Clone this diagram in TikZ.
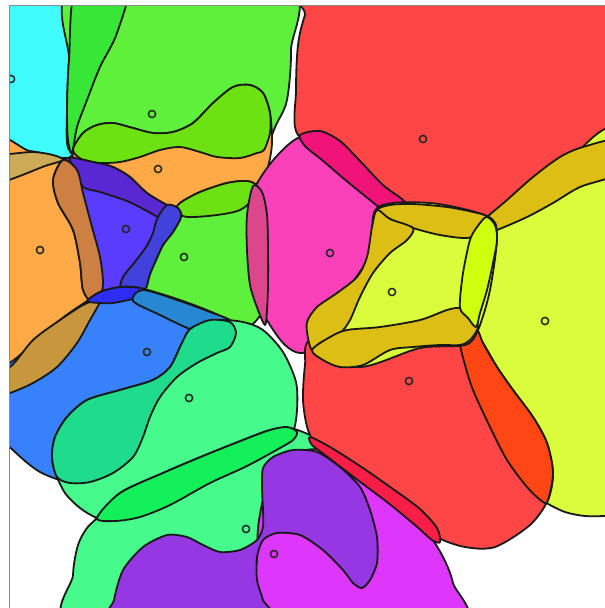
\documentclass[tikz,border=0pt]{standalone}
\usepackage{tikz}
\definecolor{ccyan}{RGB}{64,252,252}
\definecolor{cgreen}{RGB}{95,240,60}
\definecolor{cdgreen}{RGB}{55,230,55}
\definecolor{clime}{RGB}{108,226,18}
\definecolor{corange}{RGB}{255,170,70}
\definecolor{ckhaki}{RGB}{205,170,85}
\definecolor{cbrown}{RGB}{205,128,65}
\definecolor{cbrownb}{RGB}{200,150,60}
\definecolor{cblue}{RGB}{90,60,255}
\definecolor{cpurp}{RGB}{90,40,210}
\definecolor{cblr}{RGB}{65,65,220}
\definecolor{cbls}{RGB}{45,45,245}
\definecolor{cbluel}{RGB}{55,130,250}
\definecolor{csteel}{RGB}{40,135,210}
\definecolor{cmint}{RGB}{70,250,140}
\definecolor{cmintd}{RGB}{30,220,140}
\definecolor{cdiag}{RGB}{20,240,90}
\definecolor{cviolet}{RGB}{150,55,228}
\definecolor{cmag}{RGB}{220,55,250}
\definecolor{cpink}{RGB}{250,65,185}
\definecolor{cpinkg}{RGB}{220,70,140}
\definecolor{cmagred}{RGB}{240,20,120}
\definecolor{cred}{RGB}{255,70,70}
\definecolor{colive}{RGB}{220,190,20}
\definecolor{cyellow}{RGB}{218,252,60}
\definecolor{climey}{RGB}{205,255,15}
\definecolor{corred}{RGB}{255,70,20}
\definecolor{credpink}{RGB}{250,30,70}
\tikzset{
  blob/.style={draw=black!90, line width=1.8pt, line join=round},
  sitemark/.style={draw=black!85, line width=1.5pt},
  framec/.style={draw=black!45, line width=1pt}
}
\begin{document}
\begin{tikzpicture}[x=1pt,y=-1pt]
\useasboundingbox (0,0) rectangle (605,608);
\begin{scope}
\clip (9,5) rectangle (605,608);
% cyan
\path[blob,fill=ccyan] plot[smooth cycle,tension=0.5] coordinates {(-15,-15) (127,-15) (117,33) (100,67) (87,100) (77,127) (72,155) (60,158) (30,158) (-15,160)};
% green top
\path[blob,fill=cgreen] plot[smooth cycle,tension=0.5] coordinates {(68,148) (67,110) (69,60) (77,-15) (285,-15) (291,50) (287,100) (276,125) (264,150) (240,158) (217,157) (200,152) (180,147) (160,150) (140,157) (120,162) (100,163) (83,160)};
\path[blob,fill=cdgreen] plot[smooth cycle,tension=0.5] coordinates {(77,-15) (127,-15) (117,33) (100,67) (87,100) (77,127) (72,153) (68,140) (67,110) (69,60)};
% orange mid
\path[blob,fill=corange] plot[smooth cycle,tension=0.5] coordinates {(73,150) (83,133) (97,125) (113,123) (133,128) (153,133) (173,132) (193,123) (213,103) (233,87) (250,85) (263,93) (270,113) (272,143) (268,167) (260,185) (254,198) (240,210) (217,215) (187,217) (163,219) (147,211) (127,201) (100,192) (83,187) (75,170)};
\path[blob,fill=clime] plot[smooth cycle,tension=0.5] coordinates {(73,150) (83,133) (97,125) (113,123) (133,128) (153,133) (173,132) (193,123) (213,103) (233,87) (250,85) (263,93) (270,113) (270,133) (264,150) (257,153) (240,158) (217,157) (200,152) (180,147) (160,150) (140,157) (120,162) (100,163) (83,160)};
% red top
\path[blob,fill=cred] plot[smooth cycle,tension=0.55] coordinates {(298,135) (296,90) (298,45) (305,15) (318,-15) (620,-15) (620,165) (560,182) (495,228) (430,225) (380,200) (340,150)};
% pink
\path[blob,fill=cpink] plot[smooth cycle,tension=0.55] coordinates {(300,137) (330,137) (360,165) (395,205) (385,245) (350,300) (315,345) (300,353) (285,345) (270,325) (257,300) (248,260) (248,210) (255,187) (275,158)};
\path[blob,fill=cmagred] plot[smooth cycle,tension=0.5] coordinates {(300,135) (320,131) (340,141) (360,161) (383,185) (403,200) (413,213) (412,225) (400,223) (385,212) (365,196) (343,178) (322,160) (305,146)};
% green mid
\path[blob,fill=cgreen] plot[smooth cycle,tension=0.5] coordinates {(176,211) (180,203) (200,192) (227,183) (247,181) (257,186) (265,205) (268,250) (266,300) (255,322) (235,332) (200,328) (170,318) (140,300) (130,296) (150,255) (165,225)};
\path[blob,fill=clime] plot[smooth cycle,tension=0.5] coordinates {(180,203) (200,192) (227,183) (247,181) (257,186) (254,198) (240,210) (217,215) (187,217) (176,211)};
\path[blob,fill=cpinkg] plot[smooth cycle,tension=0.5] coordinates {(253,186) (262,192) (267,215) (268,250) (268,285) (267,310) (265,325) (258,310) (250,285) (247,250) (247,215)};
% orange left
\path[blob,fill=corange] plot[smooth cycle,tension=0.5] coordinates {(-15,152) (30,151) (63,160) (77,170) (83,193) (92,227) (100,257) (103,283) (100,300) (90,320) (77,343) (57,367) (33,383) (10,393) (-15,405)};
\path[blob,fill=ckhaki] plot[smooth cycle,tension=0.5] coordinates {(-15,155) (9,154) (33,152) (53,155) (63,160) (45,166) (25,174) (9,180) (-15,188)};
% blue
\path[blob,fill=cblue] plot[smooth cycle,tension=0.5] coordinates {(70,158) (93,162) (113,167) (130,177) (147,193) (167,205) (178,209) (181,217) (173,232) (163,245) (150,274) (146,288) (138,295) (120,298) (100,302) (92,303) (83,290) (80,263) (73,230) (58,203) (53,180) (60,163)};
\path[blob,fill=cpurp] plot[smooth cycle,tension=0.5] coordinates {(70,158) (93,162) (113,167) (130,177) (147,193) (167,205) (178,209) (181,217) (163,219) (147,211) (127,201) (100,192) (83,187) (77,172)};
\path[blob,fill=cbrown] plot[smooth cycle,tension=0.5] coordinates {(63,160) (77,170) (83,193) (92,227) (100,257) (103,283) (100,297) (92,303) (83,290) (80,263) (73,230) (58,203) (53,180)};
\path[blob,fill=cblr] plot[smooth cycle,tension=0.5] coordinates {(167,205) (178,208) (181,217) (173,232) (163,245) (157,258) (150,274) (146,288) (138,295) (127,297) (120,290) (123,277) (134,263) (146,247) (153,233) (157,219)};
% blue lower
\path[blob,fill=cbluel] plot[smooth cycle,tension=0.5] coordinates {(-15,385) (20,355) (60,320) (87,301) (100,292) (120,287) (140,288) (180,300) (220,316) (236,332) (230,347) (217,353) (197,363) (177,377) (160,397) (150,417) (143,437) (133,457) (113,473) (90,482) (70,483) (40,472) (15,452) (-15,420)};
\path[blob,fill=cbrownb] plot[smooth cycle,tension=0.5] coordinates {(-15,375) (10,367) (33,340) (60,320) (83,305) (97,300) (100,302) (90,320) (77,343) (57,367) (33,383) (10,393) (-15,400)};
\path[blob,fill=cbls] plot[smooth cycle,tension=0.5] coordinates {(87,301) (100,292) (120,287) (140,288) (148,292) (143,296) (133,299) (113,303) (100,303)};
\path[blob,fill=csteel] plot[smooth cycle,tension=0.5] coordinates {(143,290) (180,301) (210,312) (230,320) (238,330) (226,339) (205,335) (185,327) (160,315) (133,301)};
% mint upper
\path[blob,fill=cmint] plot[smooth cycle,tension=0.5] coordinates {(193,327) (217,320) (243,322) (263,330) (283,352) (296,382) (297,410) (293,432) (280,448) (247,466) (210,483) (170,505) (140,517) (115,521) (97,518) (80,508) (65,493) (55,472) (52,457) (55,437) (67,417) (87,400) (120,390) (153,380) (170,367) (180,347) (187,333)};
\path[blob,fill=cmintd] plot[smooth cycle,tension=0.5] coordinates {(193,327) (210,320) (230,322) (236,333) (230,347) (217,353) (197,363) (177,377) (160,397) (150,417) (143,437) (133,457) (113,473) (90,482) (70,483) (57,477) (52,457) (55,437) (67,417) (87,400) (120,390) (153,380) (170,367) (180,347) (187,333)};
% mint lower
\path[blob,fill=cmint] plot[smooth cycle,tension=0.5] coordinates {(97,518) (120,493) (163,473) (203,456) (243,440) (270,430) (290,428) (312,436) (330,448) (345,470) (340,540) (300,625) (75,625) (73,575) (78,545) (87,528)};
\path[blob,fill=cdiag] plot[smooth cycle,tension=0.5] coordinates {(97,518) (120,493) (163,473) (203,456) (243,440) (270,430) (287,427) (297,432) (293,440) (280,448) (247,466) (210,483) (170,505) (140,517) (115,521)};
% magenta and violet
\path[blob,fill=cmag] plot[smooth cycle,tension=0.5] coordinates {(257,560) (259,520) (270,480) (300,452) (330,452) (367,478) (400,505) (427,532) (443,557) (453,583) (458,625) (257,625)};
\path[blob,fill=cviolet] plot[smooth cycle,tension=0.45] coordinates {(113,625) (114,600) (123,570) (143,547) (167,535) (187,537) (203,545) (220,552) (240,550) (257,540) (263,527) (263,510) (262,487) (263,468) (273,457) (293,450) (317,452) (340,467) (360,487) (370,510) (377,537) (377,563) (370,580) (362,588) (353,583) (343,570) (323,550) (300,535) (277,533) (263,540) (257,557) (257,580) (263,600) (270,625)};
% yellow right
\path[blob,fill=cyellow] plot[smooth cycle,tension=0.5] coordinates {(470,228) (540,190) (625,140) (625,515) (605,516) (585,516) (565,512) (545,502) (527,487) (507,460) (490,427) (473,390) (463,350) (462,300) (466,260)};
% red lower
\path[blob,fill=cred] plot[smooth cycle,tension=0.5] coordinates {(310,340) (360,340) (420,335) (470,325) (483,343) (497,367) (513,390) (533,417) (547,443) (553,473) (548,500) (530,525) (495,547) (465,547) (437,537) (410,515) (380,492) (350,472) (320,450) (308,430) (303,400) (305,365)};
\path[blob,fill=credpink] plot[smooth cycle,tension=0.5] coordinates {(310,437) (330,447) (360,466) (393,489) (420,509) (437,528) (440,542) (432,540) (415,525) (387,502) (355,478) (325,455) (312,445)};
\path[blob,fill=corred] plot[smooth cycle,tension=0.5] coordinates {(477,330) (483,343) (497,367) (513,390) (533,417) (547,443) (553,473) (548,500) (543,502) (527,487) (507,460) (490,427) (473,390) (465,365) (460,343) (465,332)};
\path[blob,fill=colive] plot[smooth cycle,tension=0.5] coordinates {(480,225) (487,217) (507,200) (533,177) (560,157) (583,147) (620,140) (620,172) (580,187) (553,203) (527,217) (497,230) (487,232)};
% yellow mid
\path[blob,fill=cyellow] plot[smooth cycle,tension=0.5] coordinates {(377,208) (430,203) (487,216) (497,235) (490,290) (478,330) (465,345) (420,348) (360,367) (312,350) (340,300) (370,255)};
\path[blob,fill=colive] plot[smooth cycle,tension=0.5] coordinates {(377,210) (390,205) (413,204) (447,207) (473,212) (487,217) (483,232) (467,238) (440,235) (413,228) (390,219)};
\path[blob,fill=colive] plot[smooth cycle,tension=0.5] coordinates {(377,210) (372,227) (367,257) (357,277) (337,293) (317,307) (307,322) (308,338) (312,350) (320,343) (340,333) (350,320) (360,297) (373,273) (390,253) (407,240) (413,228) (390,219)};
\path[blob,fill=colive] plot[smooth cycle,tension=0.5] coordinates {(312,350) (330,337) (347,330) (380,327) (420,320) (447,310) (460,308) (472,313) (478,327) (470,340) (460,345) (440,345) (413,347) (390,350) (363,365) (340,367) (323,360)};
\path[blob,fill=climey] plot[smooth cycle,tension=0.5] coordinates {(487,217) (495,225) (497,240) (493,263) (487,290) (480,313) (476,327) (468,318) (460,308) (462,280) (466,257) (471,237) (480,223)};
% sites
\foreach \p in {(11,79),(152,114),(158,169),(40,250),(126,229),(184,257),(147,352),(189,398),(246,529),(274,554),(330,253),(423,139),(392,292),(545,321),(409,381)}
  \draw[sitemark] \p circle[radius=3.6pt];
\end{scope}
\draw[framec] (605,5) -- (9,5) -- (9,608);
\end{tikzpicture}
\end{document}
